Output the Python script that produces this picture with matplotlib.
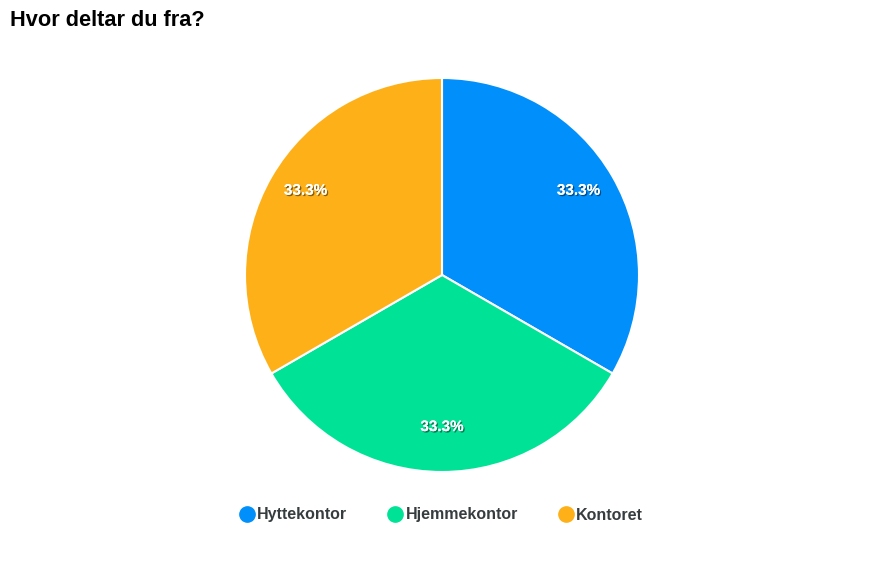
import matplotlib.pyplot as plt
import matplotlib.patheffects as pe
from matplotlib.lines import Line2D

plt.rcParams['font.family'] = ['Liberation Sans', 'DejaVu Sans']

labels = ['Hyttekontor', 'Hjemmekontor', 'Kontoret']
values = [1, 1, 1]
colors = ['#008FFB', '#00E396', '#FEB019']

W, H = 889, 571
fig = plt.figure(figsize=(W / 100, H / 100), dpi=100)

# pie centre (442, 275), radius 197 px
cx, cy, r = 442, 275, 197
ax = fig.add_axes([(cx - r) / W, (H - cy - r) / H, 2 * r / W, 2 * r / H])

wedges, texts, autotexts = ax.pie(
    values, colors=colors, startangle=90, counterclock=False, radius=1,
    autopct='%.1f%%', pctdistance=0.80,
    wedgeprops=dict(edgecolor='white', linewidth=1.5),
    textprops=dict(color='white', fontsize=11, fontweight='bold'))
for t in autotexts:
    x, y = t.get_position()
    t.set_position((x, y + 0.028))
    t.set_path_effects([pe.withSimplePatchShadow(offset=(1, -1), shadow_rgbFace='black', alpha=0.45),
                        pe.Normal()])
ax.set_xlim(-1, 1)
ax.set_ylim(-1, 1)
ax.set_aspect('equal')
ax.axis('off')

fig.text(10 / W, 1 - 20 / H, 'Hvor deltar du fra?', fontsize=15.7, fontweight='bold',
         ha='left', va='center', color='black')

handles = [Line2D([], [], marker='o', linestyle='', markersize=11, markerfacecolor=c,
                  markeredgecolor=c) for c in colors]
fig.legend(handles, labels, loc='center', bbox_to_anchor=(440 / W, 1 - 515 / H), ncol=3,
           frameon=False, handletextpad=0.05, columnspacing=2.4, handlelength=1.2,
           prop=dict(size=11.5, weight='bold'), labelcolor='#373d3f')

fig.savefig('out.png', dpi=100)
